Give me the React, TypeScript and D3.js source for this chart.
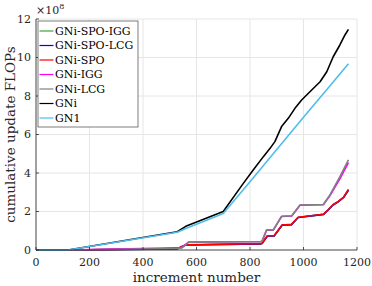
import React, { useRef, useEffect } from 'react';
import * as d3 from 'd3';

// increment number vs cumulative update FLOPs (in units of 1e8)
const gniX = [0, 120, 528, 560, 700, 775, 812, 850, 875, 893, 918, 943, 968, 993, 1024, 1062, 1087, 1111, 1136, 1155, 1168];
const gniY = [0, 0, 0.95, 1.23, 2.0, 3.46, 4.16, 4.85, 5.28, 5.63, 6.41, 6.84, 7.36, 7.79, 8.22, 8.74, 9.26, 10.04, 10.65, 11.17, 11.46];

const gn1X = [0, 120, 528, 560, 700, 800, 900, 1000, 1100, 1168];
const gn1Y = [0, 0, 0.92, 1.12, 1.9, 3.55, 5.22, 6.9, 8.55, 9.68];

const spoX = [0, 120, 528, 560, 840, 845, 865, 890, 920, 955, 980, 1075, 1093, 1110, 1130, 1150, 1168];
const spoY = [0, 0, 0.07, 0.27, 0.33, 0.35, 0.74, 0.74, 1.3, 1.33, 1.7, 1.86, 2.1, 2.35, 2.52, 2.75, 3.15];
const spoIggY = [0, 0, 0.06, 0.26, 0.32, 0.34, 0.73, 0.73, 1.29, 1.32, 1.69, 1.85, 2.09, 2.33, 2.5, 2.72, 3.1];
const spoLcgY = [0, 0, 0.06, 0.26, 0.32, 0.34, 0.73, 0.73, 1.29, 1.32, 1.69, 1.85, 2.09, 2.34, 2.51, 2.74, 3.12];

const lcgX = [0, 120, 528, 545, 570, 700, 840, 845, 862, 887, 918, 956, 987, 1074, 1099, 1136, 1168];
const lcgY = [0, 0, 0.08, 0.1, 0.4, 0.42, 0.43, 0.45, 1.04, 1.04, 1.75, 1.78, 2.34, 2.36, 2.86, 3.81, 4.68];
const iggY = [0, 0, 0.12, 0.13, 0.41, 0.43, 0.44, 0.46, 1.03, 1.03, 1.74, 1.77, 2.33, 2.35, 2.83, 3.7, 4.54];

const xTicks = [0, 200, 400, 600, 800, 1000, 1200];
const yTicks = [0, 2, 4, 6, 8, 10, 12];

const series = [
  { name: 'GNi-SPO-IGG', color: '#3fa63f', xs: spoX, ys: spoIggY },
  { name: 'GNi-SPO-LCG', color: '#0000ff', xs: spoX, ys: spoLcgY },
  { name: 'GNi-SPO', color: '#ff0000', xs: spoX, ys: spoY },
  { name: 'GNi-IGG', color: '#ff00ff', xs: lcgX, ys: iggY },
  { name: 'GNi-LCG', color: '#808080', xs: lcgX, ys: lcgY },
  { name: 'GNi', color: '#000000', xs: gniX, ys: gniY },
  { name: 'GN1', color: '#4dbeee', xs: gn1X, ys: gn1Y },
];

const W = 372;
const H = 286;
const FONT = 'DejaVu Serif, Liberation Serif, serif';

const App: React.FC = () => {
  const svgRef = useRef<SVGSVGElement | null>(null);

  useEffect(() => {
    if (!svgRef.current) return;
    const svg = d3.select(svgRef.current);
    svg.selectAll('*').remove();

    const margin = { left: 36, right: 15, top: 19, bottom: 36 };
    const x = d3.scaleLinear().domain([0, 1200]).range([margin.left, W - margin.right]);
    const y = d3.scaleLinear().domain([0, 12]).range([H - margin.bottom, margin.top]);

    const [x0, x1] = x.range();
    const [y0, y1] = y.range();

    // grid
    const grid = svg.append('g').attr('stroke', '#e6e6e6').attr('stroke-width', 1);
    grid.selectAll('.gx').data(xTicks).enter().append('line')
      .attr('x1', d => x(d)).attr('x2', d => x(d)).attr('y1', y0).attr('y2', y1);
    grid.selectAll('.gy').data(yTicks).enter().append('line')
      .attr('x1', x0).attr('x2', x1).attr('y1', d => y(d)).attr('y2', d => y(d));

    // lines
    const line = d3.line<[number, number]>().x(d => x(d[0])).y(d => y(d[1]));
    series.forEach(s => {
      const pts = s.xs.map((v, i) => [v, s.ys[i]] as [number, number]);
      svg.append('path')
        .attr('d', line(pts) || '')
        .attr('fill', 'none')
        .attr('stroke', s.color)
        .attr('stroke-width', 1.6)
        .attr('stroke-linejoin', 'round');
    });

    // axes (box off, ticks inward)
    const ax = svg.append('g').attr('stroke', '#262626').attr('stroke-width', 0.8);
    ax.append('line').attr('x1', x0).attr('x2', x1).attr('y1', y0).attr('y2', y0);
    ax.append('line').attr('x1', x0).attr('x2', x0).attr('y1', y0).attr('y2', y1);
    ax.selectAll('.tx').data(xTicks).enter().append('line')
      .attr('x1', d => x(d)).attr('x2', d => x(d)).attr('y1', y0).attr('y2', y0 - 3);
    ax.selectAll('.ty').data(yTicks).enter().append('line')
      .attr('x1', x0).attr('x2', x0 + 3).attr('y1', d => y(d)).attr('y2', d => y(d));

    const txt = svg.append('g').attr('font-family', FONT).attr('fill', '#262626');
    txt.selectAll('.lx').data(xTicks).enter().append('text')
      .attr('x', d => x(d)).attr('y', y0 + 16)
      .attr('text-anchor', 'middle').attr('font-size', 11)
      .text(d => String(d));
    txt.selectAll('.ly').data(yTicks).enter().append('text')
      .attr('x', x0 - 5).attr('y', d => y(d)).attr('dy', '0.35em')
      .attr('text-anchor', 'end').attr('font-size', 11)
      .text(d => String(d));

    // exponent, as one text with a raised tspan
    const ex = txt.append('text').attr('x', x0).attr('y', 14).attr('font-size', 11);
    ex.append('tspan').text('\u00d710');
    ex.append('tspan').attr('dy', -5).attr('font-size', 8).text('8');

    // axis labels
    txt.append('text')
      .attr('x', (x0 + x1) / 2).attr('y', 282)
      .attr('text-anchor', 'middle').attr('font-size', 13.5)
      .text('increment number');
    txt.append('text')
      .attr('transform', `translate(15,${(y0 + y1) / 2}) rotate(-90)`)
      .attr('text-anchor', 'middle').attr('font-size', 13.5)
      .text('cumulative update FLOPs');

    // legend
    const lg = svg.append('g').attr('transform', 'translate(38,21)');
    lg.append('rect').attr('width', 100).attr('height', 106)
      .attr('fill', '#fff').attr('stroke', '#262626').attr('stroke-width', 0.6);
    series.forEach((s, i) => {
      const ly = 10 + i * 14.5;
      lg.append('line').attr('x1', 1.5).attr('x2', 15.5).attr('y1', ly).attr('y2', ly)
        .attr('stroke', s.color).attr('stroke-width', 1.2);
      lg.append('text').attr('x', 17).attr('y', ly).attr('dy', '0.35em')
        .attr('font-family', FONT).attr('font-size', 11).attr('fill', '#000')
        .text(s.name);
    });
  }, []);

  return (
    <div style={{ position: 'absolute', left: 0, top: 0 }}>
      <svg ref={svgRef} width={W} height={H} style={{ display: 'block', background: '#fff' }}></svg>
    </div>
  );
};

export default App;
